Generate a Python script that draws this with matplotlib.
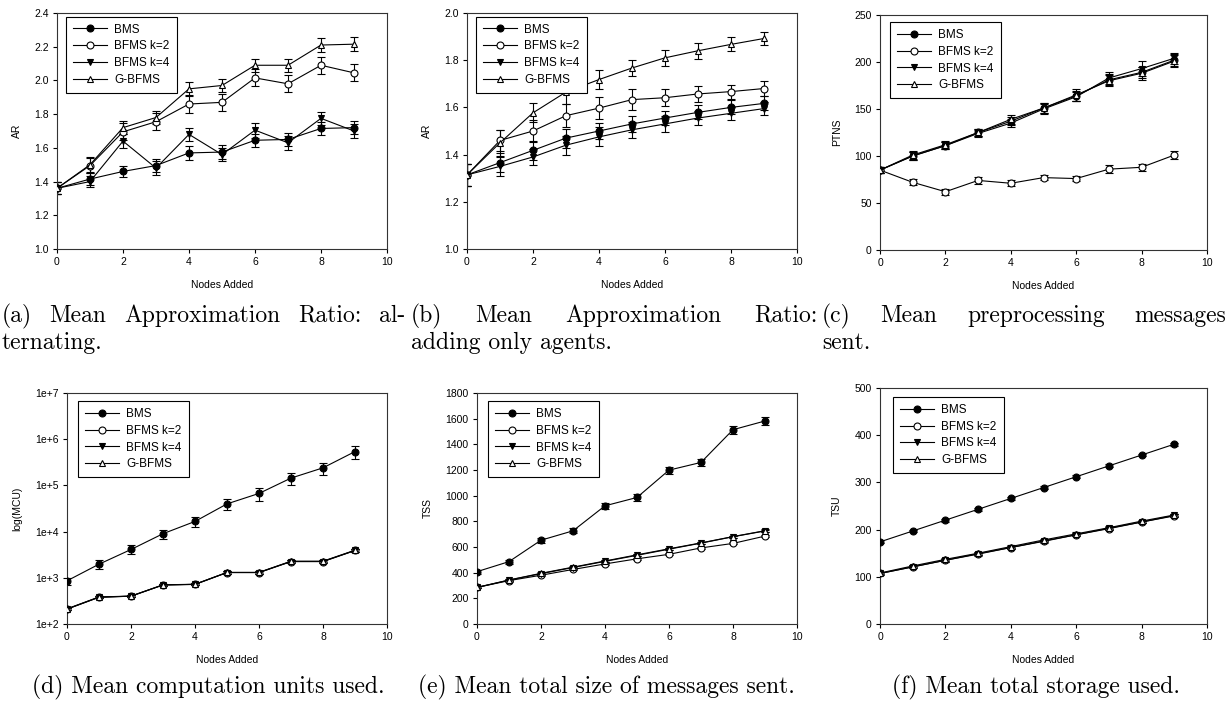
import matplotlib
matplotlib.use("Agg")
import matplotlib.pyplot as plt
import numpy as np

plt.rcParams['font.family'] = ['Liberation Sans', 'DejaVu Sans']

nodes = [0, 1, 2, 3, 4, 5, 6, 7, 8, 9]
series_names = ["BMS", "BFMS k=2", "BFMS k=4", "G-BFMS"]

# (a) approximation ratio, alternating
ar_alt = {
    "BMS":      [1.36, 1.415, 1.46, 1.495, 1.57, 1.575, 1.645, 1.65, 1.715, 1.72],
    "BFMS k=2": [1.36, 1.495, 1.695, 1.755, 1.86, 1.87, 2.015, 1.98, 2.09, 2.045],
    "BFMS k=4": [1.36, 1.40, 1.64, 1.48, 1.68, 1.56, 1.705, 1.63, 1.775, 1.70],
    "G-BFMS":   [1.36, 1.50, 1.72, 1.78, 1.95, 1.97, 2.09, 2.09, 2.21, 2.215],
}
ar_alt_err = {
    "BMS":      [0.035, 0.035, 0.035, 0.04, 0.04, 0.04, 0.04, 0.04, 0.04, 0.04],
    "BFMS k=2": [0.035, 0.045, 0.05, 0.05, 0.055, 0.05, 0.05, 0.05, 0.05, 0.05],
    "BFMS k=4": [0.035, 0.035, 0.04, 0.04, 0.04, 0.04, 0.045, 0.04, 0.04, 0.04],
    "G-BFMS":   [0.035, 0.045, 0.04, 0.04, 0.04, 0.04, 0.04, 0.04, 0.04, 0.04],
}

# (b) approximation ratio, adding only agents
ar_agents = {
    "BMS":      [1.314, 1.366, 1.418, 1.47, 1.50, 1.53, 1.555, 1.579, 1.60, 1.617],
    "BFMS k=2": [1.314, 1.46, 1.50, 1.565, 1.597, 1.633, 1.641, 1.657, 1.667, 1.68],
    "BFMS k=4": [1.314, 1.35, 1.39, 1.44, 1.475, 1.505, 1.53, 1.555, 1.575, 1.595],
    "G-BFMS":   [1.314, 1.45, 1.577, 1.665, 1.718, 1.767, 1.81, 1.84, 1.867, 1.892],
}
ar_agents_err = {
    "BMS":      [0.045, 0.04, 0.04, 0.04, 0.035, 0.035, 0.03, 0.03, 0.03, 0.03],
    "BFMS k=2": [0.045, 0.045, 0.045, 0.05, 0.045, 0.045, 0.035, 0.035, 0.03, 0.03],
    "BFMS k=4": [0.045, 0.04, 0.035, 0.04, 0.04, 0.035, 0.035, 0.03, 0.028, 0.028],
    "G-BFMS":   [0.045, 0.055, 0.04, 0.05, 0.04, 0.035, 0.035, 0.033, 0.03, 0.028],
}

# (c) preprocessing messages sent
ptns = {
    "BMS":      [85, 100, 111, 125, 137, 151, 164, 181, 189, 202],
    "BFMS k=2": [85, 72, 62, 74, 71, 77, 76, 86, 88, 101],
    "BFMS k=4": [85, 100, 111, 124, 135, 150, 163, 183, 193, 204],
    "G-BFMS":   [85, 101, 112, 125, 139, 151, 165, 180, 188, 201],
}
ptns_err = {
    "BMS":      [3, 4, 4, 4, 4, 5, 5, 6, 6, 6],
    "BFMS k=2": [3, 3, 3, 4, 3, 3, 3, 4, 4, 4],
    "BFMS k=4": [3, 4, 4, 4, 4, 5, 5, 6, 8, 6],
    "G-BFMS":   [3, 4, 4, 4, 5, 5, 6, 6, 7, 6],
}

# (d) computation units used (log scale)
mcu = {
    "BMS":      [860, 1970, 4100, 9000, 16600, 39800, 67000, 144000, 240000, 540000],
    "BFMS k=2": [210, 380, 400, 700, 720, 1300, 1300, 2250, 2250, 3900],
    "BFMS k=4": [210, 380, 400, 700, 720, 1300, 1300, 2250, 2250, 3900],
    "G-BFMS":   [213, 385, 402, 705, 725, 1310, 1310, 2290, 2290, 3960],
}
mcu_rel_err = {
    "BMS":      [0.18, 0.22, 0.22, 0.22, 0.25, 0.28, 0.3, 0.28, 0.3, 0.3],
    "BFMS k=2": [0.05, 0.05, 0.05, 0.05, 0.05, 0.06, 0.06, 0.06, 0.06, 0.08],
    "BFMS k=4": [0.05, 0.05, 0.05, 0.05, 0.05, 0.06, 0.06, 0.06, 0.06, 0.08],
    "G-BFMS":   [0.05, 0.05, 0.05, 0.05, 0.05, 0.06, 0.06, 0.06, 0.06, 0.08],
}

# (e) total size of messages sent
tss = {
    "BMS":      [408, 486, 653, 726, 921, 986, 1199, 1259, 1514, 1582],
    "BFMS k=2": [285, 338, 380, 425, 468, 508, 543, 593, 628, 685],
    "BFMS k=4": [285, 342, 392, 440, 488, 535, 583, 630, 680, 725],
    "G-BFMS":   [285, 343, 395, 443, 491, 539, 586, 632, 681, 727],
}
tss_err = {
    "BMS":      [15, 15, 18, 20, 25, 25, 28, 28, 30, 30],
    "BFMS k=2": [8, 8, 8, 8, 8, 8, 8, 8, 8, 10],
    "BFMS k=4": [8, 8, 8, 8, 8, 8, 8, 8, 8, 10],
    "G-BFMS":   [8, 8, 8, 8, 8, 8, 8, 8, 8, 10],
}

# (f) total storage used
tsu = {
    "BMS":      [174, 197, 220, 243, 266, 289, 312, 335, 358, 381],
    "BFMS k=2": [107, 121, 135, 148, 162, 175, 189, 202, 216, 229],
    "BFMS k=4": [107, 121, 135, 149, 162, 176, 189, 203, 216, 230],
    "G-BFMS":   [108, 123, 137, 150, 164, 178, 191, 204, 218, 231],
}
tsu_err = {name: [3] * 10 for name in series_names}

styles = {
    "BMS":      dict(marker="o", mfc="black"),
    "BFMS k=2": dict(marker="o", mfc="white"),
    "BFMS k=4": dict(marker="v", mfc="black"),
    "G-BFMS":   dict(marker="^", mfc="white"),
}

W, H = 1228, 706
fig = plt.figure(figsize=(W / 100, H / 100), dpi=100)


def px_axes(left, top, right, bottom):
    return fig.add_axes([left / W, 1 - bottom / H, (right - left) / W, (bottom - top) / H])


def draw_panel(ax, values, errors, ylabel, ylim, yticks, ytick_labels,
               legend_anchor, log=False, rel_err=False):
    x = np.array(nodes)
    for name in series_names:
        y = np.array(values[name], dtype=float)
        e = np.array(errors[name], dtype=float)
        if rel_err:
            e = e * y
        ax.errorbar(x, y, yerr=e, fmt="none", ecolor="black", elinewidth=0.8,
                    capsize=3, capthick=0.8, zorder=2)
        ax.plot(x, y, color="black", lw=0.8, ms=5, mec="black", mew=0.8,
                label=name, zorder=3, **styles[name])
    if log:
        ax.set_yscale("log")
        ax.minorticks_off()
    ax.set_xlim(0, 10)
    ax.set_ylim(*ylim)
    ax.set_xticks([0, 2, 4, 6, 8, 10])
    ax.set_yticks(yticks)
    ax.set_yticklabels(ytick_labels)
    ax.tick_params(direction="out", length=3, width=0.8, labelsize=7.5,
                   top=False, right=False, pad=3)
    for s in ax.spines.values():
        s.set_linewidth(0.8)
        s.set_color("#333333")
    ax.set_xlabel("Nodes Added", fontsize=7.5, labelpad=9)
    ax.set_ylabel(ylabel, fontsize=7.5, labelpad=9)
    leg = ax.legend(loc="upper left", bbox_to_anchor=legend_anchor, fontsize=8.5,
                    frameon=True, fancybox=False, edgecolor="black",
                    framealpha=1, borderaxespad=0, handlelength=2.9,
                    handletextpad=0.6, labelspacing=0.4, borderpad=0.6)
    leg.get_frame().set_linewidth(0.8)


ax_a = px_axes(57, 13, 387, 249)
draw_panel(ax_a, ar_alt, ar_alt_err, "AR", (1.0, 2.4),
           [1.0, 1.2, 1.4, 1.6, 1.8, 2.0, 2.2, 2.4],
           ["1.0", "1.2", "1.4", "1.6", "1.8", "2.0", "2.2", "2.4"], (0.027, 0.985))

ax_b = px_axes(467, 13, 797, 249)
draw_panel(ax_b, ar_agents, ar_agents_err, "AR", (1.0, 2.0),
           [1.0, 1.2, 1.4, 1.6, 1.8, 2.0],
           ["1.0", "1.2", "1.4", "1.6", "1.8", "2.0"], (0.027, 0.985))

ax_c = px_axes(880, 15, 1207, 250)
draw_panel(ax_c, ptns, ptns_err, "PTNS", (0, 250),
           [0, 50, 100, 150, 200, 250],
           ["0", "50", "100", "150", "200", "250"], (0.03, 0.97))

ax_d = px_axes(67, 393, 387, 624)
draw_panel(ax_d, mcu, mcu_rel_err, "log(MCU)", (1e2, 1e7),
           [1e2, 1e3, 1e4, 1e5, 1e6, 1e7],
           ["1e+2", "1e+3", "1e+4", "1e+5", "1e+6", "1e+7"], (0.034, 0.965),
           log=True, rel_err=True)

ax_e = px_axes(477, 393, 797, 624)
draw_panel(ax_e, tss, tss_err, "TSS", (0, 1800),
           list(range(0, 1801, 200)),
           [str(v) for v in range(0, 1801, 200)], (0.034, 0.965))

ax_f = px_axes(880, 388, 1207, 624)
draw_panel(ax_f, tsu, tsu_err, "TSU", (0, 500),
           [0, 100, 200, 300, 400, 500],
           ["0", "100", "200", "300", "400", "500"], (0.04, 0.962))

# captions (Computer Modern, justified like the LaTeX subcaptions)
cap_kw = dict(fontsize=17, family="cmr10", va="baseline", ha="left")


def justify(words, x0, x1, y):
    texts = [fig.text(x0 / W, 1 - y / H, w, **cap_kw) for w in words]
    fig.canvas.draw()
    r = fig.canvas.get_renderer()
    widths = [t.get_window_extent(r).width for t in texts]
    gap = (x1 - x0 - sum(widths)) / (len(words) - 1)
    xpos = x0
    for t, w in zip(texts, widths):
        t.set_x(xpos / W)
        xpos += w + gap


justify(["(a)", "Mean", "Approximation", "Ratio:", "al-"], 2, 405, 322)
justify(["(b)", "Mean", "Approximation", "Ratio:"], 411, 818, 322)
justify(["(c)", "Mean", "preprocessing", "messages"], 822, 1226, 322)
fig.text(2 / W, 1 - 349 / H, "ternating.", **cap_kw)
fig.text(411 / W, 1 - 349 / H, "adding only agents.", **cap_kw)
fig.text(822 / W, 1 - 349 / H, "sent.", **cap_kw)

fig.text(208 / W, 1 - 693 / H, "(d) Mean computation units used.", **{**cap_kw, "ha": "center"})
fig.text(606 / W, 1 - 693 / H, "(e) Mean total size of messages sent.", **{**cap_kw, "ha": "center"})
fig.text(1036 / W, 1 - 693 / H, "(f) Mean total storage used.", **{**cap_kw, "ha": "center"})

fig.savefig("out.png", dpi=100)
